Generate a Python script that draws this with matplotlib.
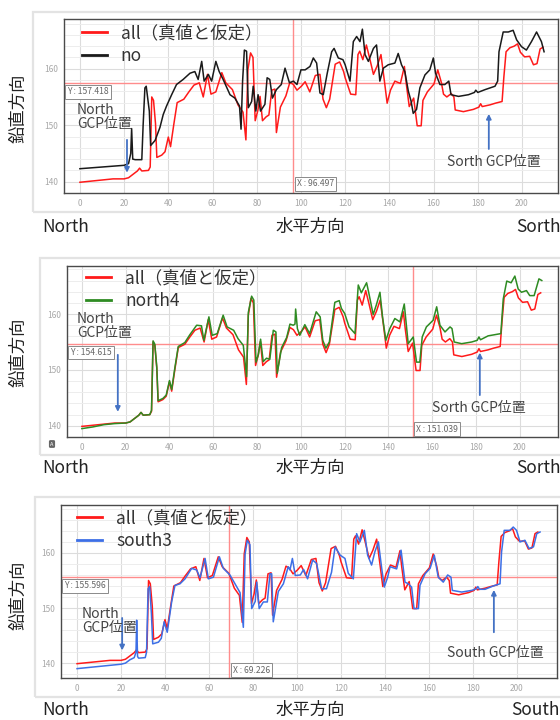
import matplotlib
matplotlib.use("Agg")
import matplotlib.pyplot as plt
from matplotlib.patches import Rectangle

plt.rcParams['font.family'] = ['Noto Sans CJK JP', 'DejaVu Sans']

# reference profile (all)
all_x = [0, 5, 10, 15, 20, 22, 24, 26, 27, 28, 31, 31.8, 32.5, 33.3, 34.2, 34.8, 37, 38.5, 40, 41,
         42.5, 44, 47, 49.3, 51.6, 54, 55.8, 57.7, 59.3, 61.5, 64.2, 66, 69, 71.5, 73.8, 75.1, 76, 77.2, 78.3, 79.3,
         80.5, 81.5, 82.6, 84.3, 85.5, 86.8, 88.2, 88.9, 90.7, 93.2, 95, 96.6, 98.2, 100.2, 101.9, 104, 106.5, 108.6, 110, 111.5,
         113, 115.5, 117.5, 119.3, 120, 122.5, 124.8, 125.8, 126.6, 128, 129.6, 131, 132.8, 134.5, 136.2, 137.7, 139, 140.5, 142.5, 145,
         146.8, 147.6, 149, 151, 152.6, 154.4, 155.2, 157.2, 160.2, 161.9, 163.5, 164.5, 166, 168, 169.2, 169.8, 173.5, 178, 180.5, 181.3,
         182, 185.5, 188, 191, 191.8, 192.8, 194.5, 196.5, 198, 199.3, 201.2, 203.5, 205.2, 206.8, 208.2, 209.5]
all_y = [139.9, 140.1, 140.3, 140.5, 140.5, 140.7, 141.3, 141.9, 142.4, 141.9, 142.0, 142.6, 155.0, 154.4, 150.3, 144.3, 144.7, 145.3, 147.9, 146.2,
         150.2, 154.0, 154.6, 155.9, 157.1, 157.5, 155.0, 159.0, 155.5, 155.9, 159.3, 157.5, 156.3, 153.6, 152.3, 147.4, 159.8, 162.8, 162.0, 150.8,
         152.6, 155.1, 150.8, 151.5, 151.8, 156.2, 156.4, 148.7, 153.2, 155.2, 157.6, 157.2, 156.2, 156.9, 157.7, 155.9, 158.8, 159.0, 154.6, 153.1,
         154.6, 160.8, 161.2, 159.5, 158.4, 155.5, 155.4, 162.5, 163.1, 161.6, 164.2, 162.0, 159.0, 160.5, 162.5, 158.0, 153.9, 156.2, 157.8, 157.4,
         160.4, 157.5, 153.3, 154.8, 149.9, 149.9, 154.4, 155.9, 157.3, 159.8, 157.6, 155.5, 155.0, 155.6, 155.0, 152.7, 152.4, 152.8, 153.2, 153.8,
         153.3, 153.6, 153.9, 154.2, 158.5, 163.0, 163.7, 164.0, 164.4, 162.9, 162.1, 162.2, 160.7, 160.9, 163.5, 163.8]

# no GCP
no_x = [0, 10, 20, 22, 23, 23.4, 23.9, 25, 28, 28.6, 29.4, 30, 30.6, 31.4, 32, 34, 36.2, 37.7, 39.2, 41.5,
        43.7, 46.7, 49.8, 52, 53.5, 55.1, 56.2, 58.1, 59.6, 61.5, 63, 64.8, 67.9, 70.1, 72.2, 72.9, 73.6, 74.4, 75.4, 76.2,
        77.7, 78.4, 79.6, 80.6, 81.7, 83.7, 84.7, 85.9, 87.1, 88.9, 91.1, 92.8, 94.8, 96.6, 98.2, 100, 101.9, 104.1, 105.6, 107.1,
        108.6, 110.1, 111.9, 113.9, 115, 116.9, 119, 120, 122.2, 123.7, 125.2, 126.7, 127.8, 129, 130.5, 132.8, 134.2, 135.7, 137.3, 139.5,
        142.5, 144, 145.5, 147, 148.6, 149.8, 150.8, 152.3, 153.8, 156.1, 158.3, 159.9, 160.9, 162.9, 165.1, 166.9, 167.9, 171.3, 175.8, 178.5,
        179.1, 180, 183.3, 187.8, 189, 189.6, 191.5, 193.8, 196, 197.6, 199.8, 202, 204.3, 206.6, 208.8, 210]
no_y = [142.3, 142.6, 142.9, 143.2, 145.0, 149.4, 144.0, 143.9, 143.9, 150.0, 156.6, 156.9, 155.0, 152.5, 146.4, 147.3, 149.6, 151.9, 153.4, 155.4,
        157.2, 158.1, 159.2, 159.5, 158.1, 161.3, 157.8, 159.0, 157.8, 161.3, 159.5, 158.1, 155.4, 154.8, 153.4, 149.3, 157.8, 163.3, 163.1, 153.1,
        154.2, 156.9, 152.5, 155.4, 152.5, 153.7, 158.4, 158.1, 154.8, 156.3, 157.2, 160.1, 157.5, 157.8, 157.2, 159.8, 159.8, 160.4, 161.9, 161.0,
        155.7, 155.4, 159.2, 163.0, 163.6, 161.9, 161.6, 160.7, 157.8, 164.8, 165.7, 164.8, 167.0, 162.5, 161.3, 163.6, 164.2, 157.8, 160.1, 160.7,
        161.0, 162.7, 160.7, 159.5, 156.0, 154.3, 152.1, 152.8, 156.6, 158.9, 159.8, 161.9, 159.2, 157.2, 157.2, 157.8, 155.4, 155.1, 155.4, 155.8,
        156.2, 155.8, 156.3, 156.9, 157.8, 163.0, 166.5, 166.5, 166.8, 165.1, 163.9, 163.3, 164.8, 166.5, 164.8, 163.0]

# north4
north4_x = [0, 5, 10, 15, 20, 22, 24, 26, 27, 28, 31, 31.8, 32.5, 33.3, 34.2, 34.8, 37, 38.5, 40, 41,
            42.5, 44, 47, 49.3, 52.4, 54.6, 55.7, 58, 59.5, 61.8, 64.5, 66.3, 69.3, 71.3, 73.7, 75.2, 76, 77.5, 78.5, 79.5,
            80.6, 81.6, 82.8, 84.3, 85.8, 87.4, 88.6, 89.2, 91.2, 93.5, 95, 96.5, 97.3, 97.6, 98.4, 99.5, 101.8, 104, 107, 108.8,
            110, 111.4, 113, 115.5, 117.5, 118.5, 120, 122, 124.7, 126.2, 127.6, 130, 131, 133, 134.5, 136.1, 137.3, 138.8, 140.6, 142.9,
            145.2, 147.2, 149, 151.3, 152.8, 154.3, 155.4, 157.3, 160.4, 162, 163.5, 165.8, 168.1, 169, 170, 173.4, 178, 180.5, 181.3, 182,
            185.5, 191.3, 192.4, 194, 196, 197.7, 199.2, 200.7, 203, 204.5, 206.5, 208.7, 210]
north4_y = [139.5, 139.8, 140.2, 140.4, 140.5, 140.7, 141.3, 141.9, 142.4, 141.9, 142.0, 142.8, 155.2, 154.6, 150.5, 144.5, 144.9, 145.5, 148.1, 146.5,
            150.5, 154.2, 154.9, 156.3, 158.0, 157.9, 155.3, 159.5, 156.2, 156.5, 159.8, 157.7, 157.1, 155.6, 154.4, 148.8, 160.3, 163.2, 162.5, 151.4,
            152.8, 155.5, 151.5, 152.1, 151.9, 157.1, 156.8, 149.4, 154.0, 155.8, 158.2, 158.0, 158.2, 160.9, 157.4, 156.2, 158.1, 156.5, 160.4, 159.5,
            155.3, 153.9, 155.0, 162.1, 162.4, 161.0, 160.1, 157.7, 156.5, 165.2, 163.8, 165.6, 163.8, 159.9, 161.7, 163.9, 159.4, 155.3, 157.4, 159.2,
            158.6, 161.8, 154.7, 155.9, 151.4, 151.4, 155.9, 157.7, 158.9, 161.3, 158.0, 156.8, 157.7, 157.4, 155.0, 154.7, 155.0, 155.3, 155.9, 155.4,
            156.1, 156.5, 162.7, 165.9, 165.6, 166.8, 164.5, 163.9, 164.2, 163.3, 163.3, 166.3, 166.0]

# south3
south3_x = [0, 10, 20, 22, 24, 26, 26.8, 27.1, 27.5, 28, 31, 31.6, 32.3, 33, 33.8, 34.4, 37, 38.3, 39.6, 41,
            43, 44.5, 46.8, 49.1, 52.1, 54.4, 55.9, 58.2, 59.7, 62, 64.7, 66.5, 69.5, 71.8, 74.1, 75.6, 76.4, 77.4, 78.6, 79.4,
            81, 81.7, 82.8, 84.7, 86.5, 87.7, 88.5, 89.2, 91.5, 93.8, 96, 96.8, 97.9, 99.2, 101.5, 103, 104.8, 107.1, 108.9, 111.2,
            113.4, 115.7, 117.3, 119.6, 121.8, 123.3, 125.6, 127.1, 128.6, 130.6, 132.1, 133.9, 135.4, 137, 138.5, 139.7, 141.2, 142.3, 145.3, 147.3,
            149.1, 150.6, 152.1, 153.2, 155.2, 155.9, 158.2, 160.5, 162.4, 164.2, 166.5, 168.5, 170, 170.6, 174.9, 179.4, 181.5, 182.2, 183, 185.5,
            189.2, 192.3, 193, 194.2, 196.8, 198.3, 199.8, 201.4, 203.6, 205.5, 207.5, 209, 210.5]
south3_y = [139.0, 139.4, 139.8, 140.0, 140.6, 141.0, 142.0, 147.8, 141.2, 140.9, 141.0, 142.0, 153.5, 153.9, 149.0, 143.5, 143.8, 144.5, 147.5, 145.6,
            151.1, 154.1, 154.4, 155.3, 157.2, 156.9, 155.5, 159.0, 155.3, 155.6, 159.3, 157.2, 156.0, 154.4, 152.8, 146.5, 159.8, 162.3, 161.5, 149.9,
            151.2, 154.7, 149.9, 151.1, 151.1, 156.2, 156.2, 147.5, 153.0, 154.4, 157.5, 156.9, 159.0, 155.9, 156.0, 157.0, 155.3, 158.7, 158.1, 153.5,
            153.5, 156.5, 161.1, 159.6, 159.0, 156.3, 155.3, 163.5, 162.0, 164.1, 159.6, 157.8, 160.2, 162.0, 157.2, 153.8, 155.6, 157.5, 157.1, 160.5,
            154.7, 154.4, 153.8, 149.9, 149.9, 154.1, 156.2, 157.2, 159.6, 155.6, 154.7, 156.0, 155.6, 153.2, 152.9, 153.2, 153.5, 153.9, 153.4, 153.4,
            154.0, 154.4, 160.2, 164.1, 164.1, 164.7, 164.1, 162.0, 162.3, 160.8, 161.1, 163.5, 163.8]

# cursor readouts
cursor_x = [96.497, 151.039, 69.226]
cursor_y = [157.418, 154.615, 155.596]

W, H = 560, 720
fig = plt.figure(figsize=(W / 100, H / 100), dpi=100)
fig.patch.set_facecolor('white')


def fx(px):
    return px / W


def fy(py):
    return 1 - py / H


def frame(l, t, r, b):
    fig.add_artist(Rectangle((fx(l), fy(b)), fx(r - l), (b - t) / H, transform=fig.transFigure,
                             fill=False, ec='#e3e3e3', lw=1.6))


def panel(box, xlim, ylim, other_x, other_y, other_label, other_color, cx, cy, leg_anchor):
    l, t, r, b = box
    ax = fig.add_axes([fx(l), fy(b), fx(r - l), (b - t) / H])
    ax.plot(all_x, all_y, color='#ff1a1a', lw=1.1, label='all（真値と仮定）', zorder=3)
    ax.plot(other_x, other_y, color=other_color, lw=1.1, label=other_label, zorder=4)
    ax.set_xlim(*xlim)
    ax.set_ylim(*ylim)
    ax.set_xticks(range(0, 201, 20))
    ax.set_yticks([140, 150, 160])
    ax.set_yticks(range(138, 169, 2), minor=True)
    ax.grid(True, which='major', color='#dcdcdc', lw=0.8)
    ax.grid(True, which='minor', axis='y', color='#ededed', lw=0.7)
    ax.set_axisbelow(True)
    ax.tick_params(which='both', length=0, labelsize=6, labelcolor='#a8a8a8', pad=4)
    for s in ax.spines.values():
        s.set_color('#4a4a4a')
        s.set_linewidth(1.0)
    # cursor crosshair
    ax.axhline(cy, color='#ff8c8c', lw=1.0, zorder=2)
    ax.axvline(cx, color='#ff8c8c', lw=1.0, zorder=2)
    bb = dict(boxstyle='square,pad=0.25', fc='white', ec='#8a8a8a', lw=0.7)
    ax.annotate('Y : %.3f' % cy, xy=(xlim[0], cy), xytext=(2.5, -3), textcoords='offset points',
                ha='left', va='top', fontsize=6.2, color='#666666', bbox=bb, zorder=6)
    ax.annotate('X : %.3f' % cx, xy=(cx, ylim[0]), xytext=(2.5, 2.5), textcoords='offset points',
                ha='left', va='bottom', fontsize=6.2, color='#666666', bbox=bb, zorder=6)
    leg = ax.legend(loc='upper left', bbox_to_anchor=leg_anchor, frameon=False, fontsize=12.5,
                    handlelength=1.45, handletextpad=0.8, borderpad=0, borderaxespad=0,
                    labelspacing=0.25)
    for line in leg.get_lines():
        line.set_linewidth(2.0)
    for txt in leg.get_texts():
        txt.set_color('#333333')
    return ax


def gcp(ax, tx, ty, head, tail, text, ha='left', va='top'):
    ax.annotate('', xy=head, xytext=tail,
                arrowprops=dict(arrowstyle='-|>', color='#4472c4', lw=1.3, mutation_scale=7), zorder=5)
    ax.text(tx, ty, text, ha=ha, va=va, fontsize=10, color='#444444', linespacing=1.0, zorder=5)


def labels(yc, right_text, right_x, ylabel_c):
    fig.text(fx(42), fy(yc), 'North', ha='left', va='center', fontsize=12.5, color='#222222')
    fig.text(fx(310), fy(yc), '水平方向', ha='center', va='center', fontsize=12.5, color='#222222')
    fig.text(fx(right_x), fy(yc), right_text, ha='left', va='center', fontsize=12.5, color='#222222')
    fig.text(fx(19), fy(ylabel_c), '鉛直方向', ha='center', va='center', rotation=90,
             fontsize=12.5, color='#222222')


# top: all vs no
frame(33, 12, 566, 212)
ax1 = panel((64, 19, 558, 193), (-7.2, 216.3), (138.2, 168.8), no_x, no_y, 'no', '#1a1a1a',
            cursor_x[0], cursor_y[0], (0.036, 0.968))
gcp(ax1, -1.4, 153.9, (21.3, 141.1), (21.3, 147.9), 'North\nGCP位置')
gcp(ax1, 166.3, 143.5, (185.0, 152.5), (185.0, 145.3), 'Sorth GCP位置', va='center')
labels(227, 'Sorth', 516, 108)

# middle: all vs north4
frame(40, 258, 566, 455)
ax2 = panel((67, 266, 558, 437), (-6.8, 217.4), (138.0, 168.6), north4_x, north4_y, 'north4', '#2e8b22',
            cursor_x[1], cursor_y[1], (0.039, 0.98))
gcp(ax2, -2.3, 160.4, (16.4, 142.0), (16.4, 153.2), 'North\nGCP位置')
gcp(ax2, 160.0, 143.2, (181.7, 153.6), (181.7, 145.0), 'Sorth GCP位置', va='center')
fig.text(fx(52), fy(444), 'A', ha='center', va='center', fontsize=4, color='white',
         bbox=dict(boxstyle='round,pad=0.25', fc='#666666', ec='none'))
labels(468, 'Sorth', 516, 352)

# bottom: all vs south3
frame(35, 497, 566, 697)
ax3 = panel((61, 505, 557, 678), (-7.3, 218.2), (137.3, 168.7), south3_x, south3_y, 'south3', '#3d6fe6',
            cursor_x[2], cursor_y[2], (0.032, 0.974))
gcp(ax3, 2.3, 150.2, (20.5, 141.8), (20.5, 148.7), 'North\nGCP位置')
gcp(ax3, 168.3, 141.8, (189.5, 153.8), (189.5, 145.1), 'South GCP位置', va='center')
labels(710, 'South', 511, 595)

fig.savefig('out.png', dpi=100)
